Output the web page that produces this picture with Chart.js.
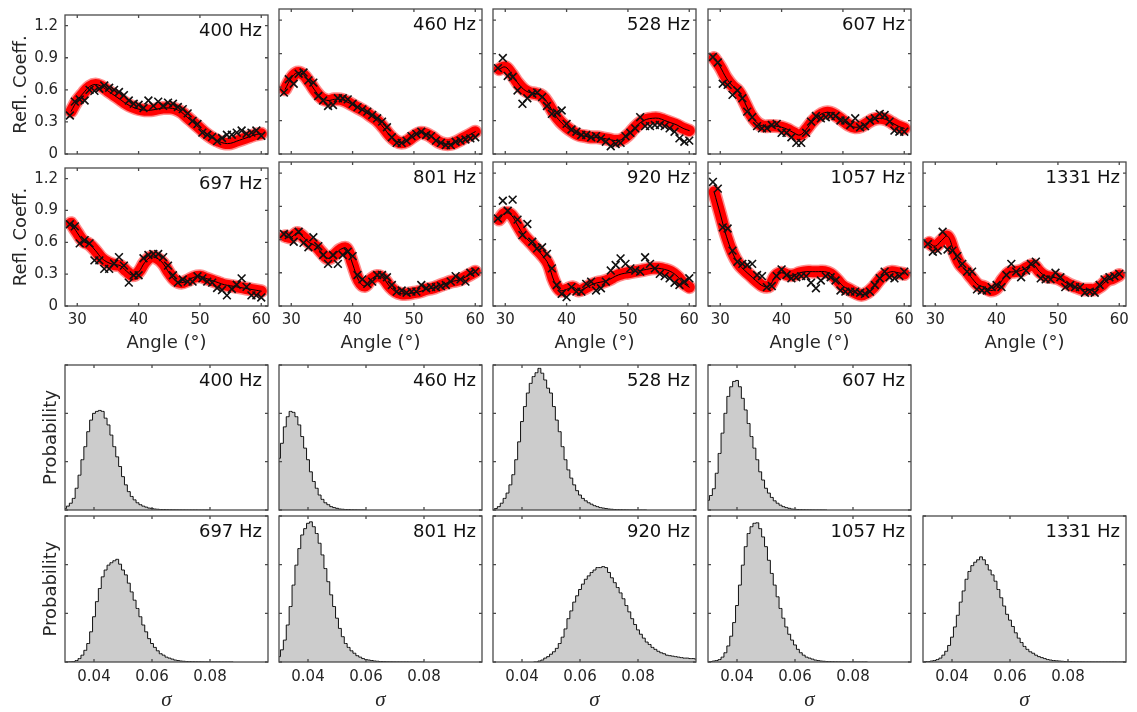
<!DOCTYPE html>
<html>
<head>
<meta charset="utf-8">
<script src="https://cdn.jsdelivr.net/npm/chart.js@4.4.0/dist/chart.umd.min.js"></script>
<style>
  body { margin: 0; background: #fff; width: 1137px; height: 712px; position: relative; overflow: hidden; }
  canvas { position: absolute; }
</style>
</head>
<body>
<script>
// measurement angles (deg) and the grid the fitted curves are given on
const obsAngles = [28.8, 29.6, 30.4, 31.2, 32.0, 32.8, 33.6, 34.4, 35.2, 36.0, 36.8, 37.6, 38.4, 39.2, 40.0, 40.8, 41.6, 42.4, 43.2, 44.0,
                   44.8, 45.6, 46.4, 47.2, 48.0, 48.8, 49.6, 50.4, 51.2, 52.0, 52.8, 53.6, 54.4, 55.2, 56.0, 56.8, 57.6, 58.4, 59.2, 60.0];
const fitAngles = [29, 30, 31, 32, 33, 34, 35, 36, 37, 38, 39, 40, 41, 42, 43, 44, 45, 46, 47, 48,
                   49, 50, 51, 52, 53, 54, 55, 56, 57, 58, 59, 60];

const angleTicks = [30, 40, 50, 60];
const reflTicks = [0, 0.3, 0.6, 0.9, 1.2];
const sigmaTicks = [0.04, 0.06, 0.08];
const probTicks = [0, 1, 2, 3];

// measured reflection coefficients
const obs400 = [0.36,0.49,0.51,0.50,0.60,0.59,0.61,0.64,0.62,0.60,0.58,0.55,0.50,0.47,0.46,0.43,0.50,0.45,0.49,0.45,
                0.48,0.47,0.44,0.42,0.38,0.31,0.28,0.20,0.18,0.16,0.12,0.15,0.18,0.18,0.20,0.22,0.19,0.20,0.22,0.17];
const obs460 = [0.55,0.67,0.63,0.72,0.73,0.66,0.64,0.52,0.48,0.43,0.44,0.50,0.50,0.49,0.45,0.42,0.40,0.38,0.35,0.32,
                0.29,0.24,0.15,0.10,0.10,0.12,0.16,0.18,0.20,0.17,0.16,0.12,0.10,0.08,0.08,0.11,0.12,0.13,0.14,0.15];
const obs528 = [0.77,0.86,0.70,0.69,0.57,0.45,0.50,0.54,0.55,0.51,0.43,0.36,0.37,0.39,0.27,0.22,0.20,0.17,0.17,0.15,
                0.16,0.14,0.11,0.07,0.09,0.10,0.16,0.19,0.23,0.33,0.25,0.25,0.26,0.26,0.25,0.23,0.20,0.14,0.11,0.12];
const obs607 = [0.87,0.82,0.63,0.62,0.53,0.57,0.50,0.38,0.33,0.25,0.23,0.23,0.26,0.27,0.19,0.19,0.15,0.10,0.10,0.19,
                0.29,0.34,0.32,0.33,0.34,0.34,0.30,0.30,0.26,0.32,0.24,0.25,0.30,0.32,0.36,0.35,0.29,0.21,0.20,0.20];
const obs697 = [0.77,0.75,0.59,0.62,0.59,0.43,0.43,0.35,0.35,0.40,0.46,0.38,0.22,0.29,0.29,0.45,0.48,0.49,0.49,0.46,
                0.38,0.29,0.22,0.25,0.23,0.23,0.28,0.26,0.23,0.22,0.17,0.15,0.10,0.16,0.20,0.26,0.18,0.10,0.10,0.08];
const obs801 = [0.65,0.64,0.58,0.67,0.57,0.53,0.62,0.54,0.46,0.38,0.46,0.38,0.46,0.49,0.45,0.28,0.24,0.20,0.22,0.28,
                0.28,0.26,0.19,0.13,0.14,0.12,0.13,0.13,0.19,0.16,0.17,0.17,0.18,0.19,0.22,0.27,0.24,0.22,0.30,0.31];
const obs920 = [0.79,0.95,0.86,0.96,0.78,0.64,0.74,0.58,0.52,0.53,0.47,0.34,0.19,0.11,0.08,0.17,0.13,0.13,0.20,0.22,
                0.14,0.16,0.22,0.32,0.37,0.43,0.38,0.34,0.32,0.31,0.44,0.38,0.34,0.29,0.27,0.25,0.21,0.19,0.22,0.25];
const obs1057 = [1.12,1.06,0.71,0.70,0.50,0.40,0.38,0.37,0.38,0.28,0.27,0.17,0.18,0.27,0.33,0.28,0.25,0.26,0.27,0.27,
                 0.21,0.16,0.23,0.27,0.26,0.23,0.14,0.13,0.13,0.13,0.12,0.11,0.13,0.19,0.25,0.31,0.26,0.25,0.27,0.31];
const obs1331 = [0.56,0.49,0.50,0.67,0.51,0.50,0.45,0.38,0.31,0.31,0.15,0.14,0.14,0.17,0.19,0.17,0.28,0.38,0.31,0.26,
                 0.32,0.38,0.40,0.25,0.24,0.24,0.30,0.26,0.17,0.19,0.17,0.17,0.12,0.13,0.12,0.19,0.24,0.26,0.27,0.29];

// fitted reflection coefficient (centre of the sample band)
const fit400 = [0.40,0.50,0.57,0.63,0.65,0.63,0.59,0.55,0.51,0.47,0.44,0.42,0.41,0.41,0.42,0.43,0.43,0.42,0.39,0.34,
                0.29,0.24,0.19,0.15,0.12,0.10,0.10,0.12,0.14,0.16,0.18,0.19];
const fit460 = [0.58,0.68,0.73,0.71,0.64,0.56,0.50,0.48,0.49,0.49,0.47,0.44,0.41,0.38,0.34,0.30,0.24,0.17,0.12,0.10,
                0.12,0.16,0.19,0.18,0.15,0.11,0.09,0.09,0.11,0.14,0.17,0.20];
const fit528 = [0.76,0.78,0.72,0.64,0.58,0.55,0.54,0.52,0.45,0.36,0.29,0.24,0.20,0.17,0.16,0.15,0.15,0.14,0.13,0.12,
                0.13,0.17,0.23,0.28,0.31,0.32,0.32,0.30,0.28,0.26,0.23,0.21];
const fit607 = [0.86,0.78,0.68,0.61,0.56,0.46,0.35,0.28,0.25,0.25,0.25,0.24,0.22,0.19,0.17,0.22,0.29,0.34,0.37,0.37,
                0.34,0.30,0.26,0.24,0.25,0.28,0.31,0.32,0.31,0.28,0.25,0.23];
const fit697 = [0.78,0.69,0.61,0.58,0.52,0.45,0.41,0.39,0.38,0.33,0.29,0.32,0.41,0.46,0.45,0.40,0.31,0.24,0.22,0.24,
                0.27,0.28,0.26,0.24,0.22,0.20,0.19,0.18,0.17,0.16,0.15,0.14];
const fit801 = [0.63,0.62,0.66,0.62,0.57,0.54,0.48,0.43,0.46,0.51,0.52,0.38,0.23,0.18,0.24,0.27,0.25,0.18,0.13,0.11,
                0.11,0.12,0.13,0.15,0.16,0.18,0.20,0.22,0.23,0.25,0.28,0.31];
const fit920 = [0.78,0.84,0.82,0.73,0.64,0.58,0.52,0.46,0.38,0.22,0.14,0.15,0.17,0.14,0.16,0.19,0.21,0.22,0.24,0.27,
                0.29,0.30,0.31,0.32,0.33,0.34,0.34,0.33,0.31,0.27,0.21,0.17];
const fit1057 = [1.03,0.83,0.63,0.48,0.38,0.32,0.27,0.22,0.18,0.18,0.27,0.30,0.28,0.28,0.30,0.31,0.31,0.31,0.31,0.29,
                 0.24,0.18,0.15,0.12,0.10,0.12,0.17,0.24,0.29,0.31,0.30,0.29];
const fit1331 = [0.57,0.54,0.59,0.63,0.50,0.38,0.32,0.25,0.19,0.17,0.14,0.16,0.24,0.30,0.31,0.32,0.35,0.37,0.31,0.27,
                 0.26,0.25,0.22,0.19,0.17,0.15,0.15,0.15,0.18,0.23,0.25,0.28];

// posterior histograms of sigma, bin width 0.001, first bin centre in histStart
const histBin = 0.001;
const hist400 = [0.03,0.08,0.14,0.24,0.45,0.72,1.04,1.31,1.62,1.86,2.00,2.04,2.06,2.04,1.90,1.76,1.55,1.31,1.10,0.90,
                 0.69,0.52,0.38,0.28,0.21,0.15,0.11,0.08,0.06,0.04,0.03,0.02,0.015,0.01,0.01,0.008,0.006,0.005,0.004,0.003,
                 0.002,0.002,0.001,0.001,0.001,0.001,0,0,0,0,0];
const hist460 = [1.07,1.38,1.72,1.93,2.04,2.02,1.93,1.76,1.52,1.28,1.04,0.79,0.59,0.45,0.31,0.22,0.15,0.11,0.07,0.05,
                 0.035,0.02,0.015,0.01,0.01,0.005,0.004,0.003,0.002,0.001,0];
const hist528 = [0,0.03,0.07,0.14,0.24,0.35,0.52,0.73,1.04,1.41,1.83,2.14,2.42,2.62,2.76,2.84,2.93,2.83,2.69,2.52,
                 2.42,2.14,1.86,1.62,1.31,1.04,0.83,0.66,0.52,0.40,0.31,0.24,0.19,0.15,0.12,0.09,0.07,0.05,0.04,0.03,
                 0.02,0.015,0.01,0.008,0.006,0.004,0.003,0.002,0.001,0.001,0,0,0,0];
const hist607 = [0.20,0.30,0.44,0.76,1.17,1.59,2.00,2.35,2.55,2.66,2.68,2.55,2.31,2.07,1.79,1.52,1.28,1.04,0.79,0.62,
                 0.45,0.35,0.26,0.19,0.14,0.10,0.07,0.05,0.035,0.02,0.015,0.01,0.008,0.006,0.004,0.003,0.002,0.001,0.001,0.001,
                 0,0];
const hist697 = [0,0,0.005,0.01,0.03,0.07,0.14,0.24,0.38,0.62,0.93,1.24,1.51,1.75,1.89,1.99,2.04,2.08,2.11,2.01,
                 1.89,1.79,1.62,1.44,1.27,1.10,0.93,0.76,0.62,0.48,0.38,0.30,0.23,0.17,0.14,0.10,0.08,0.06,0.04,0.03,
                 0.02,0.015,0.01,0.008,0.006,0.005,0.004,0.003,0.002,0.002,0.001,0.001,0.001,0.001,0,0,0,0,0];
const hist801 = [0.11,0.25,0.45,0.76,1.14,1.58,1.99,2.33,2.61,2.74,2.85,2.88,2.78,2.64,2.44,2.20,1.92,1.65,1.38,1.14,
                 0.90,0.69,0.52,0.38,0.30,0.23,0.18,0.13,0.10,0.07,0.05,0.04,0.03,0.02,0.015,0.01,0.008,0.006,0.004,0.003,
                 0.002,0.002,0.001,0.001,0.001,0,0,0,0,0,0];
const hist920 = [0,0,0.02,0.04,0.08,0.11,0.16,0.21,0.28,0.38,0.51,0.68,0.89,1.05,1.23,1.36,1.49,1.60,1.70,1.77,
                 1.84,1.89,1.94,1.94,1.96,1.94,1.84,1.73,1.63,1.53,1.42,1.30,1.16,1.03,0.89,0.77,0.66,0.57,0.49,0.41,
                 0.36,0.30,0.26,0.22,0.19,0.17,0.14,0.13,0.12,0.11,0.10,0.09,0.08,0.08,0.07,0.07,0.06,0.06];
const hist1057 = [0,0.01,0.02,0.03,0.05,0.10,0.19,0.33,0.53,0.81,1.16,1.58,1.99,2.37,2.64,2.78,2.85,2.86,2.74,2.57,
                  2.37,2.09,1.82,1.58,1.34,1.10,0.90,0.72,0.57,0.45,0.35,0.26,0.19,0.14,0.10,0.08,0.06,0.04,0.03,0.02,
                  0.015,0.01,0.008,0.006,0.004,0.003,0.002,0.002,0.001,0.001,0.001,0,0,0,0,0];
const hist1331 = [0,0.01,0.01,0.02,0.03,0.05,0.08,0.14,0.22,0.34,0.51,0.72,0.96,1.23,1.46,1.70,1.86,1.98,2.05,2.10,
                  2.16,2.10,2.00,1.89,1.79,1.66,1.49,1.32,1.15,0.98,0.86,0.73,0.60,0.49,0.40,0.32,0.26,0.21,0.18,0.14,
                  0.11,0.09,0.07,0.05,0.04,0.03,0.025,0.02,0.015,0.01,0.008,0.006,0.005,0.004,0.003,0.003,0.002,0.002,0.002,0.001,
                  0.001,0.001,0.001,0.001,0.001,0.001,0.001,0,0,0,0];

// panel grid
const colLeft = [65, 279, 493, 708, 923];
const panelW = 203;
const rowBox = [[9, 145], [162, 144], [365, 145], [516, 146]];
const ML = 70, MR = 14, MT = 10, MB = 52;

const reflPanels = [
  { label: '400 Hz', obs: obs400, fit: fit400, col: 0, row: 0 },
  { label: '460 Hz', obs: obs460, fit: fit460, col: 1, row: 0 },
  { label: '528 Hz', obs: obs528, fit: fit528, col: 2, row: 0 },
  { label: '607 Hz', obs: obs607, fit: fit607, col: 3, row: 0 },
  { label: '697 Hz', obs: obs697, fit: fit697, col: 0, row: 1 },
  { label: '801 Hz', obs: obs801, fit: fit801, col: 1, row: 1 },
  { label: '920 Hz', obs: obs920, fit: fit920, col: 2, row: 1 },
  { label: '1057 Hz', obs: obs1057, fit: fit1057, col: 3, row: 1 },
  { label: '1331 Hz', obs: obs1331, fit: fit1331, col: 4, row: 1 }
];
const histPanels = [
  { label: '400 Hz', counts: hist400, start: 0.030, col: 0, row: 2 },
  { label: '460 Hz', counts: hist460, start: 0.030, col: 1, row: 2 },
  { label: '528 Hz', counts: hist528, start: 0.030, col: 2, row: 2 },
  { label: '607 Hz', counts: hist607, start: 0.030, col: 3, row: 2 },
  { label: '697 Hz', counts: hist697, start: 0.030, col: 0, row: 3 },
  { label: '801 Hz', counts: hist801, start: 0.030, col: 1, row: 3 },
  { label: '920 Hz', counts: hist920, start: 0.044, col: 2, row: 3 },
  { label: '1057 Hz', counts: hist1057, start: 0.030, col: 3, row: 3 },
  { label: '1331 Hz', counts: hist1331, start: 0.030, col: 4, row: 3 }
];

Chart.defaults.font.family = "'DejaVu Sans', sans-serif";
Chart.defaults.color = '#262626';

// box around the axes with inward tick marks, plus the frequency tag
const framePlugin = {
  id: 'frame',
  afterDraw(chart, args, opts) {
    const { ctx, chartArea: a, scales } = chart;
    ctx.save();
    ctx.strokeStyle = '#4a4a4a';
    ctx.lineWidth = 1.3;
    ctx.strokeRect(a.left, a.top, a.width, a.height);
    ctx.beginPath();
    scales.x.ticks.forEach(t => {
      const px = scales.x.getPixelForValue(t.value);
      ctx.moveTo(px, a.bottom); ctx.lineTo(px, a.bottom - 3);
      ctx.moveTo(px, a.top); ctx.lineTo(px, a.top + 3);
    });
    scales.y.ticks.forEach(t => {
      const py = scales.y.getPixelForValue(t.value);
      ctx.moveTo(a.left, py); ctx.lineTo(a.left + 3, py);
      ctx.moveTo(a.right, py); ctx.lineTo(a.right - 3, py);
    });
    ctx.stroke();
    ctx.font = "18px 'DejaVu Sans', sans-serif";
    ctx.fillStyle = '#111';
    ctx.textAlign = 'right';
    ctx.textBaseline = 'alphabetic';
    ctx.fillText(opts.label, a.right - 6, a.top + 21);
    ctx.restore();
  }
};
Chart.register(framePlugin);

function makeCanvas(col, row) {
  const [top, h] = rowBox[row];
  const c = document.createElement('canvas');
  c.width = ML + panelW + MR;
  c.height = MT + h + MB;
  c.style.left = (colLeft[col] - ML) + 'px';
  c.style.top = (top - MT) + 'px';
  document.body.appendChild(c);
  return c;
}

function axis(min, max, tickList, opts) {
  return Object.assign({
    type: 'linear', min, max,
    afterBuildTicks: s => { s.ticks = tickList.map(v => ({ value: v })); },
    grid: { display: false, drawTicks: false },
    border: { display: false }
  }, opts);
}

function baseOptions(label) {
  return {
    responsive: false,
    animation: false,
    events: [],
    layout: { padding: { left: 0, right: MR, top: MT, bottom: 0 } },
    plugins: { legend: { display: false }, tooltip: { enabled: false }, frame: { label } }
  };
}

function reflChart(p) {
  const fitPts = fitAngles.map((a, i) => ({ x: a, y: p.fit[i] }));
  const obsPts = obsAngles.map((a, i) => ({ x: a, y: p.obs[i] }));
  const showX = p.row === 1, showY = p.col === 0;
  const curve = { pointRadius: 0, tension: 0.4, borderCapStyle: 'round', borderJoinStyle: 'round' };
  const opts = baseOptions(p.label);
  opts.scales = {
    x: axis(28, 61.1, angleTicks, {
      afterFit: s => { s.height = MB; },
      ticks: { display: showX, padding: 5, font: { size: 15 } },
      title: { display: showX, text: 'Angle (°)', font: { size: 18 }, padding: { top: 0, bottom: 4 } }
    }),
    y: axis(0, 1.3, reflTicks, {
      afterFit: s => { s.width = ML; },
      ticks: { display: showY, padding: 7, font: { size: 15 }, callback: v => String(v) },
      title: { display: showY, text: 'Refl. Coeff.', font: { size: 18 }, padding: { top: 16, bottom: 0 } }
    })
  };
  new Chart(makeCanvas(p.col, p.row), {
    type: 'line',
    data: {
      datasets: [
        { data: obsPts, showLine: false, pointStyle: 'crossRot', pointRadius: 5.5, pointBorderWidth: 1.6,
          pointBorderColor: '#111', pointBackgroundColor: '#111', order: 0 },
        Object.assign({ data: fitPts, borderColor: '#000', borderWidth: 1, order: 1 }, curve),
        // sample band: solid core with a softer rim
        Object.assign({ data: fitPts, borderColor: '#ff0000', borderWidth: 11, order: 2 }, curve),
        Object.assign({ data: fitPts, borderColor: 'rgba(255,0,0,0.45)', borderWidth: 14, order: 3 }, curve)
      ]
    },
    options: opts
  });
}

function histChart(p) {
  const pts = p.counts.map((v, i) => ({ x: p.start + i * histBin, y: v }));
  const showX = p.row === 3, showY = p.col === 0;
  const opts = baseOptions(p.label);
  opts.scales = {
    x: axis(0.03, 0.1, sigmaTicks, {
      afterFit: s => { s.height = MB; },
      ticks: { display: showX, padding: 6, font: { size: 15 }, callback: v => v.toFixed(2) },
      title: { display: showX, text: 'σ', font: { size: 21, style: 'italic', family: "'Liberation Serif', serif" },
               padding: { top: 0, bottom: 1 } }
    }),
    y: axis(0, 3, probTicks, {
      afterFit: s => { s.width = ML; },
      ticks: { display: false },
      title: { display: showY, text: 'Probability', font: { size: 18 }, padding: { top: 46, bottom: 0 } }
    })
  };
  new Chart(makeCanvas(p.col, p.row), {
    type: 'line',
    data: {
      datasets: [{ data: pts, stepped: 'middle', fill: 'origin', backgroundColor: '#cccccc',
                   borderColor: '#111', borderWidth: 1, pointRadius: 0 }]
    },
    options: opts
  });
}

reflPanels.forEach(reflChart);
histPanels.forEach(histChart);
</script>
</body>
</html>
